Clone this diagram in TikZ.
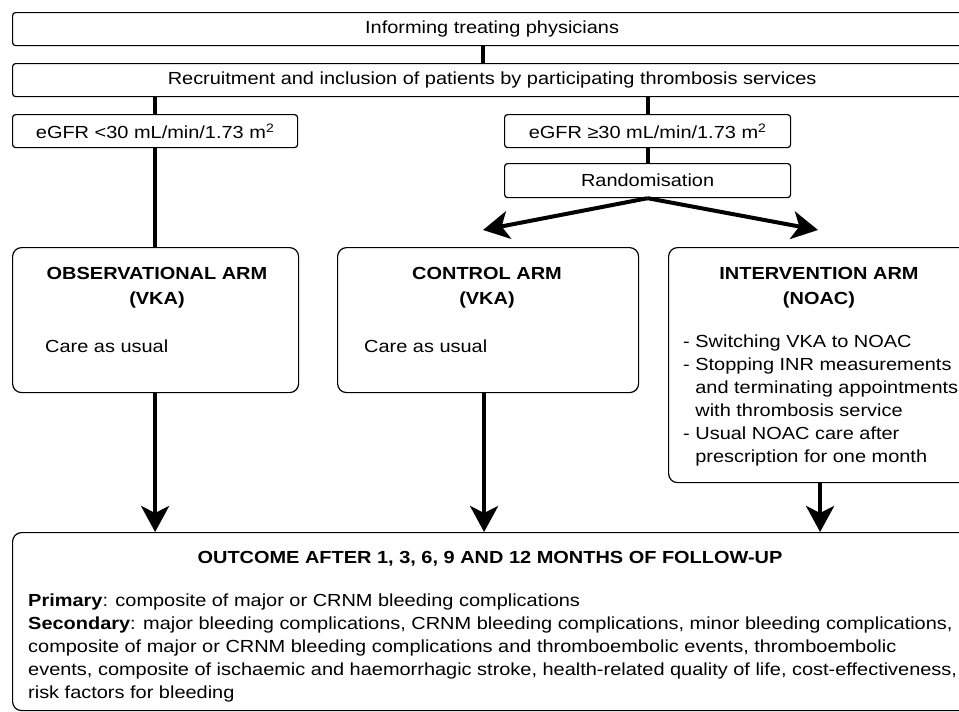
\documentclass[tikz,border=0pt]{standalone}
\usepackage{fontspec}
\setmainfont{Liberation Sans}[FakeStretch=1.14]
\usetikzlibrary{arrows.meta}
\begin{document}
\begin{tikzpicture}[x=1pt,y=-1pt,
  box/.style={draw, line width=1.2pt, rounded corners=3pt, inner sep=0pt, anchor=north west, font=\fs},
  armbox/.style={draw, line width=1.2pt, rounded corners=9pt, inner sep=0pt, anchor=north west},
  conn/.style={line width=4pt},
  arr/.style={line width=4pt, -{Stealth[length=26pt,width=28pt,inset=7pt]}},
  txt/.style={inner sep=0pt, font=\fs}]
\newcommand\fs{\fontsize{17.5}{23}\selectfont}
\useasboundingbox (0,0) rectangle (959,712);
\clip (0,0) rectangle (959,712);
% boxes
\node[box, minimum width=959pt, minimum height=33pt] (inform) at (12,12) {Informing treating physicians};
\node[box, minimum width=959pt, minimum height=33pt] (recruit) at (12,63) {Recruitment and inclusion of patients by participating thrombosis services};
\node[box, minimum width=285pt, minimum height=33pt] (egfrL) at (12,114) {eGFR <30 mL/min/1.73 m\textsuperscript{2}};
\node[box, minimum width=286pt, minimum height=33pt] (egfrR) at (504,114) {eGFR ≥30 mL/min/1.73 m\textsuperscript{2}};
\node[box, minimum width=286pt, minimum height=34pt] (rand) at (504,163) {Randomisation};
\node[armbox, minimum width=286pt, minimum height=145pt] (obs) at (12,247) {};
\node[armbox, minimum width=301pt, minimum height=145pt] (ctrl) at (337,247) {};
\node[armbox, minimum width=303pt, minimum height=235pt] (interv) at (668,247) {};
\node[armbox, minimum width=959pt, minimum height=178pt] (outcome) at (12,532) {};
% texts in arm boxes (base = last line's baseline)
\node[txt, font=\fs\bfseries, align=center, anchor=base] (obsT) at (157,304) {OBSERVATIONAL ARM\\[2pt](VKA)};
\node[txt, anchor=base west] (obsC) at (45,352) {Care as usual};
\node[txt, font=\fs\bfseries, align=center, anchor=base] (ctrlT) at (487,304) {CONTROL ARM\\[2pt](VKA)};
\node[txt, anchor=base west] (ctrlC) at (364,352) {Care as usual};
\node[txt, font=\fs\bfseries, align=center, anchor=base] (intT) at (819,304) {INTERVENTION ARM\\[2pt](NOAC)};
\node[txt, align=left, anchor=base west] (intL) at (683,462) {- Switching VKA to NOAC\\
- Stopping INR measurements\\
\phantom{- }and terminating appointments\\
\phantom{- }with thrombosis service\\
- Usual NOAC care after\\
\phantom{- }prescription for one month};
% outcome texts
\node[txt, font=\fs\bfseries, anchor=base] (outT) at (490,563) {OUTCOME AFTER 1, 3, 6, 9 AND 12 MONTHS OF FOLLOW-UP};
\node[txt, font=\fontsize{17.5}{22.8}\selectfont, align=left, anchor=base west] (outB) at (28,698) {\textbf{Primary}: composite of major or CRNM bleeding complications\\
\textbf{Secondary}: major bleeding complications, CRNM bleeding complications, minor bleeding complications,\\
composite of major or CRNM bleeding complications and thromboembolic events, thromboembolic\\
events, composite of ischaemic and haemorrhagic stroke, health-related quality of life, cost-effectiveness,\\
risk factors for bleeding};
% connectors
\draw[conn] ([xshift=-9pt]inform.south) -- ([xshift=-9pt]recruit.north);
\draw[conn] (egfrL.north |- recruit.south) -- (egfrL.north);
\draw[conn] (egfrR.north |- recruit.south) -- (egfrR.north);
\draw[conn] (egfrR.south) -- (rand.north);
\draw[conn] (egfrL.south) -- (egfrL.south |- obs.north);
\coordinate (tipL) at (483,230);
\coordinate (tipR) at (818,230);
\draw[arr] (rand.south) -- (tipL);
\draw[arr] (rand.south) -- (tipR);
\draw[arr] (egfrL.south |- obs.south) -- (egfrL.south |- outcome.north);
\draw[arr] ([xshift=-4pt]ctrl.south) -- ([xshift=-4pt]ctrl.south |- outcome.north);
\draw[arr] (interv.south) -- (interv.south |- outcome.north);
\end{tikzpicture}
\end{document}
